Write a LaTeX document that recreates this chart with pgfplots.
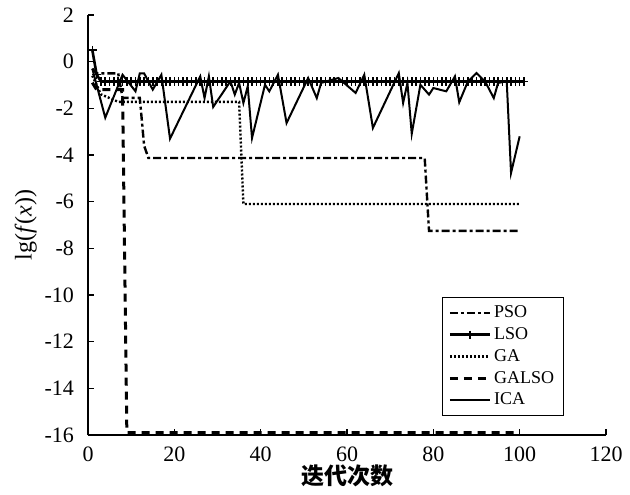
\documentclass[border=0pt]{standalone}
\usepackage{fontspec}
\setmainfont{Liberation Serif}
\newfontfamily\cjk{Noto Sans CJK SC}
\usepackage{pgfplots}
\pgfplotsset{compat=1.18}
\begin{document}
\begin{tikzpicture}
\begin{axis}[
    name=ax,
    scale only axis,
    width=259pt, height=210pt,
    xmin=0, xmax=120, ymin=-16, ymax=2,
    axis x line=bottom, axis y line=left,
    axis line style={-, line width=0.8pt},
    tick align=inside, major tick length=3pt,
    tick style={black, line width=0.8pt},
    xtick={0,20,...,120}, ytick={-16,-14,...,2},
    xticklabels={0,20,40,60,80,100,120},
    yticklabels={-16,-14,-12,-10,-8,-6,-4,-2,0,2},
    ticklabel style={font=\fontsize{11}{13}\selectfont},
    xticklabel style={yshift=-2.5pt},
    yticklabel style={xshift=-3.5pt},
    xlabel={\cjk\bfseries 迭代次数},
    xlabel style={at={(axis description cs:0.5,0)}, anchor=center, yshift=-20.5pt, inner sep=0pt, font=\fontsize{11.5}{13}\selectfont},
    ylabel={lg(\textit{f}(\textit{x}))},
    ylabel style={at={(axis description cs:-0.12,0.5)}, anchor=center, font=\fontsize{12}{14}\selectfont},
    legend style={at={(rel axis cs:0.683,0.329)}, anchor=north west, draw=black, line width=0.5pt,
        font=\fontsize{9}{10}\selectfont, row sep=-0.5pt, inner xsep=3pt, inner ysep=2pt,
        nodes={inner xsep=1.5pt}},
    legend cell align=left,
    legend image code/.code={\draw[mark repeat=2,mark phase=2,#1] plot coordinates {(0cm,0cm) (0.35cm,0cm) (0.7cm,0cm)};},
]
% PSO
\addplot[black, line width=1.2pt, dash pattern=on 4pt off 1.5pt on 1.5pt off 1.5pt] coordinates {
(1,-0.3) (2,-0.5) (7,-0.5) (8,-1.55) (12,-1.55) (13,-3.6) (14,-4.13) (78,-4.13) (79,-7.25) (100,-7.25)
};
% LSO
\addplot[black, line width=1.3pt, mark=+, mark size=2.1pt, mark options={solid, line width=0.8pt}] coordinates {
(1,0.5) (2,-0.55) (3,-0.85) (4,-0.85) (5,-0.85) (6,-0.85) (7,-0.85) (8,-0.85) (9,-0.85) (10,-0.85)
(11,-0.85) (12,-0.85) (13,-0.85) (14,-0.85) (15,-0.85) (16,-0.85) (17,-0.85) (18,-0.85) (19,-0.85) (20,-0.85)
(21,-0.85) (22,-0.85) (23,-0.85) (24,-0.85) (25,-0.85) (26,-0.85) (27,-0.85) (28,-0.85) (29,-0.85) (30,-0.85)
(31,-0.85) (32,-0.85) (33,-0.85) (34,-0.85) (35,-0.85) (36,-0.85) (37,-0.85) (38,-0.85) (39,-0.85) (40,-0.85)
(41,-0.85) (42,-0.85) (43,-0.85) (44,-0.85) (45,-0.85) (46,-0.85) (47,-0.85) (48,-0.85) (49,-0.85) (50,-0.85)
(51,-0.85) (52,-0.85) (53,-0.85) (54,-0.85) (55,-0.85) (56,-0.85) (57,-0.85) (58,-0.85) (59,-0.85) (60,-0.85)
(61,-0.85) (62,-0.85) (63,-0.85) (64,-0.85) (65,-0.85) (66,-0.85) (67,-0.85) (68,-0.85) (69,-0.85) (70,-0.85)
(71,-0.85) (72,-0.85) (73,-0.85) (74,-0.85) (75,-0.85) (76,-0.85) (77,-0.85) (78,-0.85) (79,-0.85) (80,-0.85)
(81,-0.85) (82,-0.85) (83,-0.85) (84,-0.85) (85,-0.85) (86,-0.85) (87,-0.85) (88,-0.85) (89,-0.85) (90,-0.85)
(91,-0.85) (92,-0.85) (93,-0.85) (94,-0.85) (95,-0.85) (96,-0.85) (97,-0.85) (98,-0.85) (99,-0.85) (100,-0.85)
(101,-0.85)
};
% GA
\addplot[black, line width=1.2pt, dash pattern=on 1pt off 1pt] coordinates {
(1,-0.6) (3,-1.4) (7,-1.72) (35,-1.72) (36,-6.1) (100,-6.1)
};
% GALSO
\addplot[black, line width=1.5pt, dash pattern=on 4pt off 3pt] coordinates {
(1,-0.9) (2,-1.2) (8,-1.2) (9,-15.9) (100,-15.9)
};
% ICA
\addplot[black, line width=1pt] coordinates {
(1,-0.3) (4,-2.4) (8,-0.56) (11,-1.27) (12,-0.5) (13,-0.5) (15,-1.2) (17,-0.56) (19,-3.3)
(26,-0.63) (27,-1.56) (28,-0.63) (29,-1.94) (33,-0.84) (34,-1.41) (35,-0.91) (36,-1.77) (37,-1.06)
(38,-3.27) (41,-0.99) (42,-1.27) (44,-0.56) (46,-2.63) (51,-0.7) (53,-1.56) (54,-0.91) (58,-0.7)
(62,-1.34) (64,-0.56) (66,-2.84) (72,-0.49) (73,-1.77) (74,-0.91) (75,-3.09) (77,-0.99) (79,-1.41)
(80,-1.13) (83,-1.27) (85,-0.63) (86,-1.74) (88,-0.85) (90,-0.49) (92,-0.85) (94,-1.56) (95,-0.91)
(97,-0.84) (98,-4.77) (100,-3.2)
};
\legend{PSO,LSO,GA,GALSO,ICA}
\end{axis}
\pgfresetboundingbox
\path ([shift={(-44pt,-29.5pt)}]ax.south west) rectangle ([shift={(12pt,7.5pt)}]ax.north east);
\end{tikzpicture}
\end{document}
